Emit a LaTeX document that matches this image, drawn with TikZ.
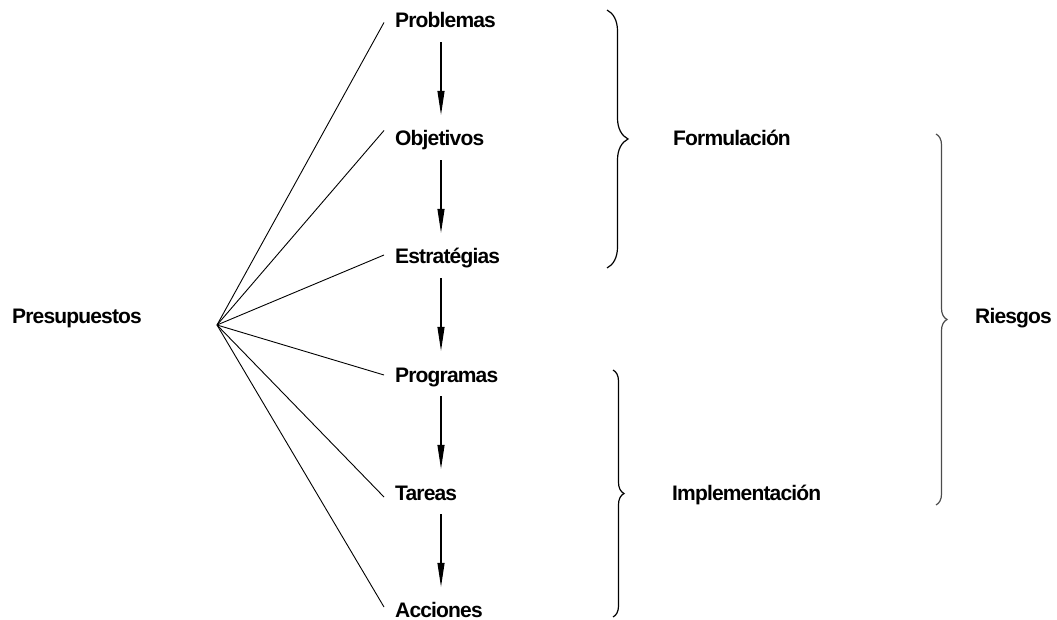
\documentclass[tikz,border=0pt]{standalone}
\usepackage{fontspec}
\setmainfont{Liberation Sans}[LetterSpace=-4]
\usetikzlibrary{arrows.meta,decorations.pathreplacing}
\begin{document}
\begin{tikzpicture}[x=1pt,y=-1pt,
  lbl/.style={font=\fontsize{21}{23}\selectfont\bfseries, anchor=base west,
    inner xsep=0pt, inner ysep=0pt},
  stage/.style={lbl, inner xsep=11pt, inner ysep=3pt, text height=15pt, text depth=4pt},
  fan/.style={line width=0.9pt},
  flow/.style={line width=1.1pt, -{Triangle[length=24pt,width=7pt]},
    shorten <=7pt, shorten >=13pt},
  grp/.style={line width=1.2pt, decorate, decoration={brace, amplitude=#1}}
]
\useasboundingbox (0,0) rectangle (1057,620);

% chain of stages
\node[stage] (pro) at (384,28)  {Problemas};
\node[stage] (obj) at (384,146) {Objetivos};
\node[stage] (est) at (384,264) {Estratégias};
\node[stage] (prg) at (384,382) {Programas};
\node[stage] (tar) at (384,500) {Tareas};
\node[stage] (acc) at (384,617) {Acciones};

\node[lbl] (pre) at (12,323)  {Presupuestos};
\node[lbl] (for) at (673,146) {Formulación};
\node[lbl] (imp) at (672,500) {Implementación};
\node[lbl] (rie) at (975,323) {Riesgos};

% fan from the budget to every stage
\coordinate (apex) at (217,325);
\draw[fan] (apex) -- (pro.west);
\draw[fan] (apex) -- ([yshift=10pt]obj.west);
\draw[fan] (apex) -- ([yshift=3.5pt]est.west);
\draw[fan] (apex) -- ([yshift=1.5pt]prg.west);
\draw[fan] (apex) -- ([yshift=-2.5pt]tar.west);
\draw[fan] (apex) -- ([yshift=4.5pt]acc.west);

% downward sequence
\coordinate (ax) at (441,0);
\draw[flow] (pro.south -| ax) -- (obj.north -| ax);
\draw[flow] (obj.south -| ax) -- (est.north -| ax);
\draw[flow] (est.south -| ax) -- (prg.north -| ax);
\draw[flow] (prg.south -| ax) -- (tar.north -| ax);
\draw[flow] (tar.south -| ax) -- ([yshift=-1pt]acc.north -| ax);

% grouping braces
\draw[grp=21pt] (607,10) -- (607,268);
\draw[grp=11pt] (613,370) -- (613,617);
\draw[grp=11pt, draw=black!70] (936,134) -- (936,505);
\end{tikzpicture}
\end{document}
